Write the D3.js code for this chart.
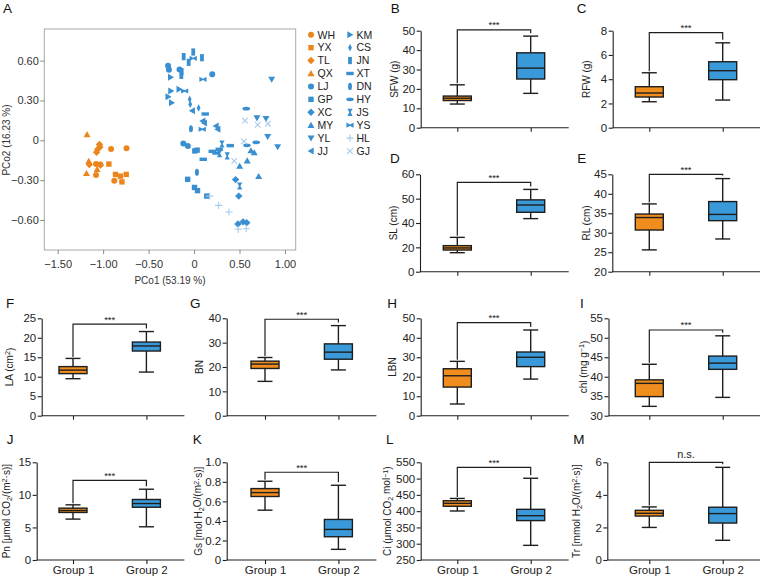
<!DOCTYPE html>
<html>
<head>
<meta charset="utf-8">
<script src="https://cdn.jsdelivr.net/npm/d3@7"></script>
<style>
  body { margin: 0; background: #fff; }
  svg { display: block; font-family: "Liberation Sans", Arial, Helvetica, sans-serif; }
</style>
</head>
<body>
<svg id="fig" width="760" height="576"></svg>
<script>
// ---- panel A: PCoA ----
const sites = ["WH","YX","TL","QX","LJ","GP","XC","MY","YL","JJ",
               "KM","CS","JN","XT","DN","HY","JS","YS","HL","GJ"];
const siteShapes = ["circle","square","diamond","triUp","circle","square","diamond","triUp","triDown","triLeft",
                    "triRight","thinDiamond","tallRect","wideRect","tallEllipse","wideEllipse","hourglass","bowtie","plus","cross"];

const group1Points = [
  ["WH",-0.913,-0.066],["WH",-0.743,-0.06],["WH",-1.078,-0.178],["WH",-1.03,-0.183],["WH",-1.078,-0.262],["WH",-0.877,-0.304],
  ["YX",-0.937,-0.179],["YX",-0.864,-0.257],["YX",-0.81,-0.27],["YX",-0.746,-0.257],["YX",-0.793,-0.313],
  ["TL",-1.04,-0.032],["TL",-1.035,-0.05],["TL",-1.06,-0.068],["TL",-1.072,-0.09],["TL",-1.152,-0.182],["TL",-1.03,-0.187],
  ["QX",-1.177,0.044],["QX",-1.158,-0.157],["QX",-1.066,-0.218],["QX",-1.183,-0.249]
];
const group2Points = [
  ["LJ",-0.286,0.562],["LJ",-0.276,0.532],["LJ",-0.16,0.533],["LJ",0.2,0.498],["LJ",-0.118,-0.025],["LJ",-0.068,-0.042],
  ["GP",0.008,-0.08],["GP",0.034,-0.074],["GP",-0.07,-0.294],["GP",0.005,-0.355],["GP",0.038,-0.379],["GP",0.14,-0.42],
  ["XC",0.457,-0.296],["XC",0.492,-0.42],["XC",0.483,-0.63],["XC",0.54,-0.614],["XC",0.58,-0.62],
  ["MY",0.626,-0.078],["MY",0.662,-0.093],["MY",0.585,-0.154],["MY",0.502,-0.194],["MY",0.711,-0.271],
  ["YL",0.854,0.459],["YL",0.692,0.168],["YL",0.791,0.163],["YL",0.81,0.027],["YL",0.92,-0.05],
  ["JJ",-0.02,0.223],["JJ",0.095,0.145],["JJ",0.112,0.13],["JJ",0.241,0.108],["JJ",0.26,0.083],
  ["KM",-0.257,0.474],["KM",-0.254,0.371],["KM",-0.284,0.328],["KM",-0.246,0.283],["KM",-0.163,0.384],
  ["CS",-0.048,0.309],["CS",-0.042,0.271],["CS",0.05,0.243],
  ["JN",-0.009,0.665],["JN",-0.114,0.63],["JN",-0.059,0.587],["JN",0.087,0.622],["JN",-0.136,0.517],["JN",-0.14,0.489],
  ["XT",0.123,0.198],["XT",0.2,-0.083],["XT",0.241,-0.096],["XT",0.277,-0.068],["XT",0.398,-0.04],["XT",0.101,-0.143],
  ["DN",-0.034,0.087],["DN",0.032,-0.241],
  ["HY",0.574,0.238],["HY",0.582,-0.038],["HY",0.684,-0.015],
  ["JS",0.307,-0.028],["JS",0.28,-0.1],["JS",0.365,-0.118],["JS",0.502,-0.344],
  ["YS",-0.009,0.617],["YS",0.098,0.459],["YS",-0.103,0.371],["YS",0.09,0.083],
  ["HL",0.171,-0.42],["HL",0.27,-0.49],["HL",0.384,-0.54],["HL",0.486,-0.67],["HL",0.574,-0.666],
  ["GJ",0.56,0.148],["GJ",0.7,0.117],["GJ",0.813,0.125],["GJ",0.549,-0.008],["GJ",0.442,-0.156]
];
const pcoXTicks = [-1.5, -1, -0.5, 0, 0.5, 1];
const pcoYTicks = [-0.6, -0.3, 0, 0.3, 0.6];

// ---- panels B-M: box plots [min, q1, median, q3, max] ----
const groups = ["Group 1", "Group 2"];
const sfw = [[12.2, 14.0, 15.2, 16.3, 22.1], [17.7, 25.1, 30.7, 38.6, 47.2]];
const rfw = [[2.14, 2.53, 2.86, 3.38, 4.53], [2.28, 3.96, 4.70, 5.44, 7.0]];
const sl  = [[15.6, 17.8, 19.5, 21.4, 28.2], [41.8, 44.4, 47.4, 49.5, 53.8]];
const rl  = [[25.6, 30.7, 33.9, 34.8, 37.4], [28.4, 33.1, 34.7, 38.0, 43.9]];
const la  = [[9.5, 10.8, 11.7, 12.6, 14.7], [11.2, 16.6, 17.9, 18.9, 21.6]];
const bn  = [[14.1, 19.4, 21.2, 22.4, 23.9], [18.8, 23.2, 26.1, 29.5, 37.0]];
const lbn = [[6.0, 14.7, 20.5, 24.1, 27.9], [18.8, 25.2, 30.0, 32.7, 44.0]];
const chl = [[32.4, 34.9, 38.3, 39.2, 43.2], [34.7, 41.9, 43.5, 45.3, 50.5]];
const pn  = [[6.28, 7.30, 7.60, 7.96, 8.47], [5.10, 8.10, 8.67, 9.29, 10.87]];
const gs  = [[0.51, 0.65, 0.69, 0.731, 0.806], [0.109, 0.238, 0.313, 0.415, 0.765]];
const ci  = [[400.5, 415, 424, 432, 439], [295, 371, 386, 405.6, 501]];
const tr  = [[2.0, 2.70, 2.87, 3.05, 3.26], [1.21, 2.27, 2.85, 3.24, 5.69]];

const sfwTicks = [0, 10, 20, 30, 40, 50];
const rfwTicks = [0, 2, 4, 6, 8];
const slTicks  = [0, 20, 40, 50, 60];
const rlTicks  = [20, 25, 30, 35, 40, 45];
const laTicks  = [0, 5, 10, 15, 20, 25];
const bnTicks  = [0, 10, 20, 30, 40];
const lbnTicks = [0, 10, 20, 30, 40, 50];
const chlTicks = [30, 35, 40, 45, 50, 55];
const pnTicks  = [0, 5, 10, 15];
const gsTicks  = [0, 0.2, 0.4, 0.6, 0.8, 1.0];
const gsTickLabels = ["0", "0.2", "0.4", "0.6", "0.8", "1.0"];
const ciTicks  = [250, 300, 350, 400, 450, 500, 550];
const trTicks  = [0, 2, 4, 6];

const sigLabels   = ["***","***","***","***","***","***","***","***","***","***","***","n.s."];
const bracketLevels = [50.4, 7.84, 56.7, 45, 23.5, 39.6, 47.8, 52, 12.24, 0.898, 534.6, 6.0];

const ORANGE = "#ec861c", BLUE = "#3a8fd1", LIGHT = "#a7cbea";
const BOX_ORANGE = "#f08d1f", BOX_BLUE = "#3a9ad9";
const INK = "#1e1e1e";

const svg = d3.select("#fig");

function siteColor(s) {
  const i = sites.indexOf(s);
  if (i < 4) return ORANGE;
  if (s === "HL" || s === "GJ") return LIGHT;
  return BLUE;
}

function shapePath(type) {
  switch (type) {
    case "circle": return "M3,0A3,3 0 1,1 -3,0A3,3 0 1,1 3,0Z";
    case "square": return "M-2.7,-2.7H2.7V2.7H-2.7Z";
    case "diamond": return "M0,-3.7L3.7,0L0,3.7L-3.7,0Z";
    case "triUp": return "M0,-3.4L3.5,2.7H-3.5Z";
    case "triDown": return "M0,3.4L3.5,-2.7H-3.5Z";
    case "triLeft": return "M-3.4,0L2.7,-3.5V3.5Z";
    case "triRight": return "M3.4,0L-2.7,-3.5V3.5Z";
    case "thinDiamond": return "M0,-3.8L1.9,0L0,3.8L-1.9,0Z";
    case "tallRect": return "M-1.9,-3.6H1.9V3.6H-1.9Z";
    case "wideRect": return "M-3.7,-1.7H3.7V1.7H-3.7Z";
    case "tallEllipse": return "M2,0A2,3.6 0 1,1 -2,0A2,3.6 0 1,1 2,0Z";
    case "wideEllipse": return "M3.8,0A3.8,1.9 0 1,1 -3.8,0A3.8,1.9 0 1,1 3.8,0Z";
    case "hourglass": return "M-2.6,-3.6H2.6L0.7,0L2.6,3.6H-2.6L-0.7,0Z";
    case "bowtie": return "M-3.6,-2.6V2.6L0,0.7L3.6,2.6V-2.6L0,-0.7Z";
    case "plus": return "M-3.6,0H3.6M0,-3.6V3.6";
    case "cross": return "M-2.8,-2.8L2.8,2.8M-2.8,2.8L2.8,-2.8";
  }
}

function drawMarker(g, s, x, y) {
  const type = siteShapes[sites.indexOf(s)];
  const c = siteColor(s);
  const stroked = type === "plus" || type === "cross";
  g.append("path")
    .attr("transform", `translate(${x},${y})`)
    .attr("d", shapePath(type))
    .attr("fill", stroked ? "none" : c)
    .attr("stroke", stroked ? c : "none")
    .attr("stroke-width", 1.1);
}

// text with ^{sup} and _{sub}
function richText(sel, str) {
  const parts = str.split(/(\^\{[^}]*\}|_\{[^}]*\})/).filter(d => d !== "");
  let shift = 0;
  parts.forEach(p => {
    let txt = p, small = false, target = 0;
    if (p.startsWith("^{")) { txt = p.slice(2, -1); target = -0.35; small = true; }
    else if (p.startsWith("_{")) { txt = p.slice(2, -1); target = 0.25; small = true; }
    const ts = sel.append("tspan").text(txt);
    const dy = target - shift;
    if (dy !== 0) ts.attr("dy", dy + "em");
    if (small) ts.attr("font-size", "72%");
    shift = target;
  });
}

function styleAxis(a, size) {
  a.attr("font-family", null).attr("font-size", size);
  a.selectAll(".domain, .tick line").attr("stroke", INK).attr("stroke-width", 1.1);
  a.selectAll(".tick text").attr("fill", "#222");
}

function letter(text, x, y) {
  svg.append("text").attr("x", x).attr("y", y)
    .attr("font-size", 13.5).attr("fill", "#111").text(text);
}

// ---------------- Panel A ----------------
(function () {
  const left = 44.3, right = 295.7, top = 29, bottom = 250;
  const x = d3.scaleLinear().domain([-1.647, 1.118]).range([left, right]);
  const y = d3.scaleLinear().domain([-0.826, 0.838]).range([bottom, top]);
  const g = svg.append("g");

  g.append("rect").attr("x", left).attr("y", top)
    .attr("width", right - left).attr("height", bottom - top)
    .attr("fill", "none").attr("stroke", "#a8a8a8").attr("stroke-width", 1);

  const fmt = v => v === 0 ? "0" : d3.format(".2f")(v);
  const ya = g.append("g").attr("transform", `translate(${left},0)`)
    .call(d3.axisLeft(y).tickValues(pcoYTicks).tickFormat(fmt).tickSize(4).tickPadding(1.5));
  const xa = g.append("g").attr("transform", `translate(0,${bottom})`)
    .call(d3.axisBottom(x).tickValues(pcoXTicks).tickFormat(fmt).tickSize(4).tickPadding(6));
  [ya, xa].forEach(a => {
    a.attr("font-family", null).attr("font-size", 11);
    a.select(".domain").remove();
    a.selectAll(".tick line").attr("stroke", "#888");
    a.selectAll(".tick text").attr("fill", "#333");
  });

  g.append("text").attr("x", 170).attr("y", 284)
    .attr("text-anchor", "middle").attr("font-size", 10).attr("fill", "#333")
    .text("PCo1 (53.19 %)");
  g.append("text").attr("transform", "translate(9.5,140) rotate(-90)")
    .attr("text-anchor", "middle").attr("font-size", 10).attr("fill", "#333")
    .text("PCo2 (16.23 %)");

  const pts = g.append("g");
  group1Points.concat(group2Points).forEach(d => drawMarker(pts, d[0], x(d[1]), y(d[2])));

  // legend
  const lg = g.append("g");
  sites.forEach((s, i) => {
    const col = Math.floor(i / 10), row = i % 10;
    const mx = col ? 350 : 311, my = 34.7 + row * 12.93;
    drawMarker(lg, s, mx, my);
    lg.append("text").attr("x", mx + 6.5).attr("y", my + 3.8)
      .attr("font-size", 10.5).attr("fill", "#222").text(s);
  });
  letter("A", 3, 12.5);
})();

// ---------------- Panels B-M ----------------
const rows = [[30.7, 127.7], [174.3, 271.7], [318.3, 415.7], [462.3, 560]];
const cols = [73, 265, 457.3, 649.3];
const panels = [
  { id: "B", data: sfw, ticks: sfwTicks, title: "SFW (g)", row: 0, col: 2, ax: 420.7, tx: 394, lx: 390.7 },
  { id: "C", data: rfw, ticks: rfwTicks, title: "RFW (g)", row: 0, col: 3, ax: 612.7, tx: 586, lx: 576.7 },
  { id: "D", data: sl, ticks: slTicks, title: "SL (cm)", row: 1, col: 2, ax: 420, tx: 393.3, lx: 390 },
  { id: "E", data: rl, ticks: rlTicks, title: "RL (cm)", row: 1, col: 3, ax: 612.3, tx: 586.7, lx: 577.3 },
  { id: "F", data: la, ticks: laTicks, title: "LA (cm^{2})", row: 2, col: 0, ax: 41.7, tx: 9.3, lx: 6 },
  { id: "G", data: bn, ticks: bnTicks, title: "BN", row: 2, col: 1, ax: 226.7, tx: 199, lx: 190 },
  { id: "H", data: lbn, ticks: lbnTicks, title: "LBN", row: 2, col: 2, ax: 420.7, tx: 392.7, lx: 387.3 },
  { id: "I", data: chl, ticks: chlTicks, title: "chl (mg g^{−1})", row: 2, col: 3, ax: 608.5, tx: 583.5, lx: 580 },
  { id: "J", data: pn, ticks: pnTicks, title: "Pn [μmol CO_{2}/(m^{2}·s)]", row: 3, col: 0, ax: 36.7, tx: 6.7, lx: 6.7 },
  { id: "K", data: gs, ticks: gsTicks, labels: gsTickLabels, title: "Gs [mol H_{2}O/(m^{2}·s)]", row: 3, col: 1, ax: 226.7, tx: 198.3, lx: 192.7 },
  { id: "L", data: ci, ticks: ciTicks, title: "Ci (μmol CO_{2} mol^{−1})", row: 3, col: 2, ax: 420.7, tx: 387.3, lx: 386 },
  { id: "M", data: tr, ticks: trTicks, title: "Tr [mmol H_{2}O/(m^{2}·s)]", row: 3, col: 3, ax: 607.3, tx: 576.7, lx: 573.3 }
];
const letterY = [12.5, 162.5, 307.5, 444];

panels.forEach((p, k) => {
  const [top, bottom] = rows[p.row];
  const c1 = cols[p.col], c2 = c1 + 73.4;
  const n = p.ticks.length;
  const y = d3.scaleLinear().domain(p.ticks)
    .range(p.ticks.map((_, i) => bottom - i * (bottom - top) / (n - 1)));
  const x = d3.scalePoint().domain(groups).range([c1, c2]);
  const g = svg.append("g");

  const ya = g.append("g").attr("transform", `translate(${p.ax},0)`)
    .call(d3.axisLeft(y).tickValues(p.ticks)
      .tickFormat((d, i) => p.labels ? p.labels[i] : d)
      .tickSize(4).tickPadding(1.5).tickSizeOuter(0));
  styleAxis(ya, 11.5);

  const xa = g.append("g").attr("transform", `translate(0,${bottom})`)
    .call(d3.axisBottom(x).tickSize(4).tickPadding(1.5).tickSizeOuter(0)
      .tickFormat(p.row === 3 ? d => d : () => ""));
  xa.select(".domain").attr("d", `M${p.ax},0H${c2 + 38}`);
  styleAxis(xa, 11.5);

  // y title
  const t = g.append("text")
    .attr("transform", `translate(${p.tx + 3.5},${(top + bottom) / 2}) rotate(-90)`)
    .attr("text-anchor", "middle").attr("font-size", 10).attr("fill", "#222");
  richText(t, p.title);

  // boxes
  p.data.forEach((s, i) => {
    const cx = x(groups[i]);
    const [mn, q1, md, q3, mx] = s;
    const bg = g.append("g").attr("stroke", INK).attr("stroke-width", 1.4);
    bg.append("line").attr("x1", cx).attr("x2", cx).attr("y1", y(mx)).attr("y2", y(mn));
    bg.append("line").attr("x1", cx - 7.5).attr("x2", cx + 7.5).attr("y1", y(mx)).attr("y2", y(mx));
    bg.append("line").attr("x1", cx - 7.5).attr("x2", cx + 7.5).attr("y1", y(mn)).attr("y2", y(mn));
    bg.append("rect").attr("x", cx - 14).attr("width", 28)
      .attr("y", y(q3)).attr("height", y(q1) - y(q3))
      .attr("fill", i === 0 ? BOX_ORANGE : BOX_BLUE);
    bg.append("line").attr("x1", cx - 14).attr("x2", cx + 14).attr("y1", y(md)).attr("y2", y(md));
  });

  // significance bracket
  const yb = y(bracketLevels[k]);
  const x1 = x(groups[0]), x2 = x(groups[1]);
  g.append("path")
    .attr("d", `M${x1},${y(p.data[0][4]) - 1.5}V${yb}H${x2}V${Math.max(yb, y(p.data[1][4]) - 3)}`)
    .attr("fill", "none").attr("stroke", INK).attr("stroke-width", 1.2);
  const ns = sigLabels[k] !== "***";
  g.append("text").attr("x", (x1 + x2) / 2).attr("y", yb - (ns ? 4 : 1.5))
    .attr("text-anchor", "middle").attr("font-size", ns ? 11 : 9.5).attr("fill", "#222")
    .text(sigLabels[k]);

  letter(p.id, p.lx, letterY[p.row]);
});
</script>
</body>
</html>
